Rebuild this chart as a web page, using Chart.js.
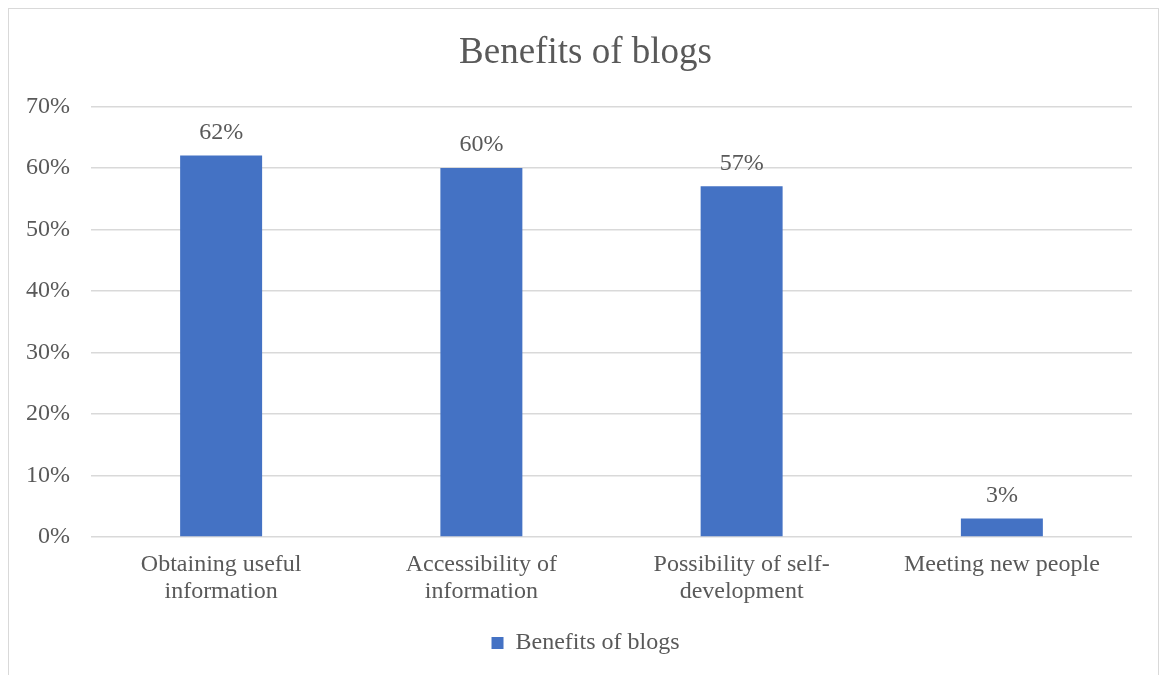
<!DOCTYPE html>
<html>
<head>
<meta charset="utf-8">
<script src="https://cdn.jsdelivr.net/npm/chart.js@4/dist/chart.umd.min.js"></script>
<style>
  html, body { margin: 0; padding: 0; background: #fff; }
  #wrap { position: relative; width: 1164px; height: 675px; overflow: hidden; }
  #frame { position: absolute; left: 8px; top: 8px; width: 1151px; height: 720px; border: 1px solid #d9d9d9; box-sizing: border-box; }
  canvas { position: absolute; left: 0; top: 0; }
</style>
</head>
<body>
<div id="wrap">
  <div id="frame"></div>
  <canvas id="c" width="1164" height="675"></canvas>
</div>
<script>
const categories = [
  ["Obtaining useful", "information"],
  ["Accessibility of", "information"],
  ["Possibility of self-", "development"],
  "Meeting new people"
];
const seriesName = "Benefits of blogs";
const values = [62, 60, 57, 3];
const yTicks = [0, 10, 20, 30, 40, 50, 60, 70];

const FONT = "'Liberation Serif', 'Times New Roman', serif";
const TEXT = "#595959";
const BLUE = "#4472C4";

const dataLabels = {
  id: "dataLabels",
  afterDatasetsDraw(chart) {
    const ctx = chart.ctx;
    ctx.save();
    ctx.font = "24px " + FONT;
    ctx.fillStyle = TEXT;
    ctx.textAlign = "center";
    ctx.textBaseline = "bottom";
    chart.data.datasets.forEach((ds, i) => {
      chart.getDatasetMeta(i).data.forEach((bar, j) => {
        ctx.fillText(ds.data[j] + "%", bar.x, bar.y - 11);
      });
    });
    ctx.restore();
  }
};

new Chart(document.getElementById("c"), {
  type: "bar",
  data: {
    labels: categories,
    datasets: [{
      label: seriesName,
      data: values,
      backgroundColor: BLUE,
      borderWidth: 0,
      categoryPercentage: 1,
      barPercentage: 0.315
    }]
  },
  options: {
    responsive: false,
    animation: false,
    layout: { padding: { top: 10, left: 10, right: 3, bottom: 10 } },
    plugins: {
      title: {
        display: true,
        text: "Benefits of blogs",
        color: TEXT,
        font: { family: FONT, size: 37, weight: "normal" },
        padding: { top: 21, bottom: 31 }
      },
      legend: {
        display: true,
        position: "bottom",
        labels: {
          color: TEXT,
          font: { family: FONT, size: 24 },
          boxWidth: 12,
          boxHeight: 12,
          padding: 10
        }
      },
      tooltip: { enabled: false }
    },
    scales: {
      y: {
        min: 0,
        max: 70,
        afterBuildTicks(scale) { scale.ticks = yTicks.map(v => ({ value: v })); },
        afterFit(scale) { scale.width = 81; },
        ticks: {
          color: TEXT,
          font: { family: FONT, size: 24 },
          padding: 21,
          callback: v => v + "%"
        },
        grid: { color: "#d9d9d9", lineWidth: 1.5, drawTicks: false },
        border: { display: false }
      },
      yRight: {
        position: "right",
        display: true,
        min: 0,
        max: 70,
        afterFit(scale) { scale.width = 29; },
        ticks: { display: false },
        grid: { display: false, drawTicks: false },
        border: { display: false }
      },
      x: {
        afterFit(scale) { scale.height = 84; },
        ticks: {
          color: TEXT,
          font: { family: FONT, size: 24, lineHeight: 1.13 },
          padding: 14,
          maxRotation: 0,
          autoSkip: false
        },
        grid: { display: false, drawTicks: false },
        border: { display: false }
      }
    }
  },
  plugins: [dataLabels]
});
</script>
</body>
</html>
